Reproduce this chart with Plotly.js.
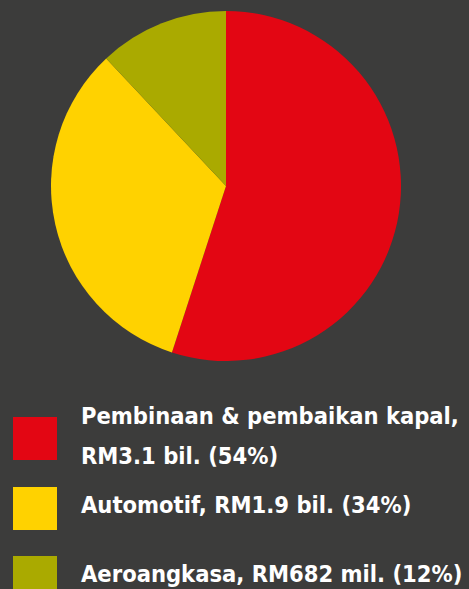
<!DOCTYPE html>
<html><head><meta charset="utf-8">
<script src="https://cdn.plot.ly/plotly-3.0.1.min.js"></script>
<style>html,body{margin:0;padding:0;background:#3c3c3b;}#c{width:469px;height:589px;}</style>
</head><body><div id="c"></div>
<script>
var categories = ["Pembinaan & pembaikan kapal", "Automotif", "Aeroangkasa"];
var amounts = ["RM3.1 bil.", "RM1.9 bil.", "RM682 mil."];
var shareLabels = ["54%", "34%", "12%"];
var sliceValues = [55, 33, 12];
var colors = ["#e30613", "#ffd200", "#aaaa00"];

var W = 469, H = 589;
function px(x){return x/W;}
function py(y){return 1 - y/H;}

var legendLines = [
  [categories[0] + ",", amounts[0] + " (" + shareLabels[0] + ")"],
  [categories[1] + ", " + amounts[1] + " (" + shareLabels[1] + ")"],
  [categories[2] + ", " + amounts[2] + " (" + shareLabels[2] + ")"]
];
var sqTop = [417, 487, 556];
var lineY = [[416, 456], [505], [574]];

var shapes = [], annotations = [];
for (var i = 0; i < 3; i++) {
  shapes.push({type:"rect", xref:"paper", yref:"paper",
    x0:px(13), x1:px(57), y0:py(sqTop[i]), y1:py(sqTop[i]+43),
    fillcolor:colors[i], line:{width:0}});
  for (var j = 0; j < legendLines[i].length; j++) {
    annotations.push({xref:"paper", yref:"paper", x:px(79), y:py(lineY[i][j]),
      xanchor:"left", yanchor:"middle", align:"left", showarrow:false,
      text:"<b>"+legendLines[i][j]+"</b>",
      font:{family:"DejaVu Sans Condensed, sans-serif", size:23.5, color:"#ffffff"}});
  }
}

var data = [{
  type:"pie", values:sliceValues, labels:categories, sort:false, direction:"clockwise",
  rotation:0, marker:{colors:colors, line:{width:0}}, textinfo:"none", hoverinfo:"none",
  domain:{x:[px(51), px(401)], y:[py(361), py(11)]}
}];
var layout = {
  width:W, height:H, margin:{l:0,r:0,t:0,b:0},
  paper_bgcolor:"#3c3c3b", plot_bgcolor:"#3c3c3b", showlegend:false,
  shapes:shapes, annotations:annotations
};
Plotly.newPlot("c", data, layout, {staticPlot:true, displayModeBar:false});
</script></body></html>
